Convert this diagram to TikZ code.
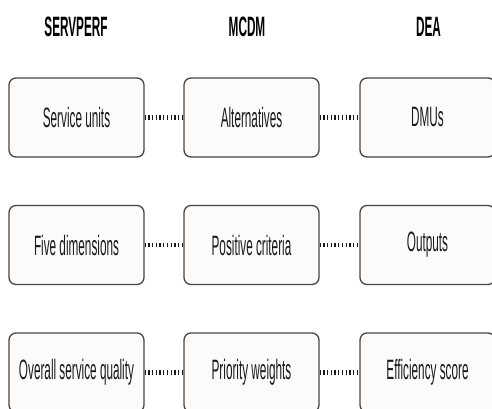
\documentclass[tikz,border=0pt]{standalone}
\usepackage{fontspec}
\setmainfont{Liberation Sans}
\newcommand{\sqz}[1]{\scalebox{0.42}[1]{\fontsize{28}{30}\selectfont #1}}
\definecolor{boxfill}{HTML}{FCFBFA}
\definecolor{boxline}{HTML}{474747}
\definecolor{txt}{HTML}{1A1A1A}
\tikzset{
  stagebox/.style={draw=boxline, line width=1.3pt, fill=boxfill, rounded corners=7pt,
    minimum width=135pt, minimum height=79pt, inner sep=0pt, text=txt},
  headlabel/.style={inner sep=0pt, text=black, font=\bfseries},
  dotline/.style={line width=4.8pt, dash pattern=on 1.3pt off 2.4pt, draw=black!90}
}
\begin{document}
\begin{tikzpicture}[x=1pt,y=-1pt]
\useasboundingbox (0,0) rectangle (492,409);
\clip (0,0) rectangle (492,409);
\fill[white] (0,0) rectangle (492,409);
% headers
\node[headlabel] (h1) at (76,27) {\sqz{\bfseries SERVPERF}};
\node[headlabel] (h2) at (247,27) {\sqz{\bfseries MCDM}};
\node[headlabel] (h3) at (428.5,27) {\sqz{\bfseries DEA}};
% row 1
\node[stagebox] (a1) at (76.5,117.5) {\sqz{Service units}};
\node[stagebox] (b1) at (251.5,117.5) {\sqz{Alternatives}};
\node[stagebox] (c1) at (427.5,117.5) {\sqz{DMUs}};
% row 2
\node[stagebox] (a2) at (76.5,245) {\sqz{Five dimensions}};
\node[stagebox] (b2) at (251.5,245) {\sqz{Positive criteria}};
\node[stagebox] (c2) at (427.5,245) {\sqz{Outputs}};
% row 3
\node[stagebox] (a3) at (76.5,372.5) {\sqz{Overall service quality}};
\node[stagebox] (b3) at (251.5,372.5) {\sqz{Priority weights}};
\node[stagebox] (c3) at (427.5,372.5) {\sqz{Efficiency score}};
% connectors
\draw[dotline] (a1.east) -- (b1.west);
\draw[dotline] (b1.east) -- (c1.west);
\draw[dotline] (a2.east) -- (b2.west);
\draw[dotline] (b2.east) -- (c2.west);
\draw[dotline] (a3.east) -- (b3.west);
\draw[dotline] (b3.east) -- (c3.west);
\end{tikzpicture}
\end{document}
